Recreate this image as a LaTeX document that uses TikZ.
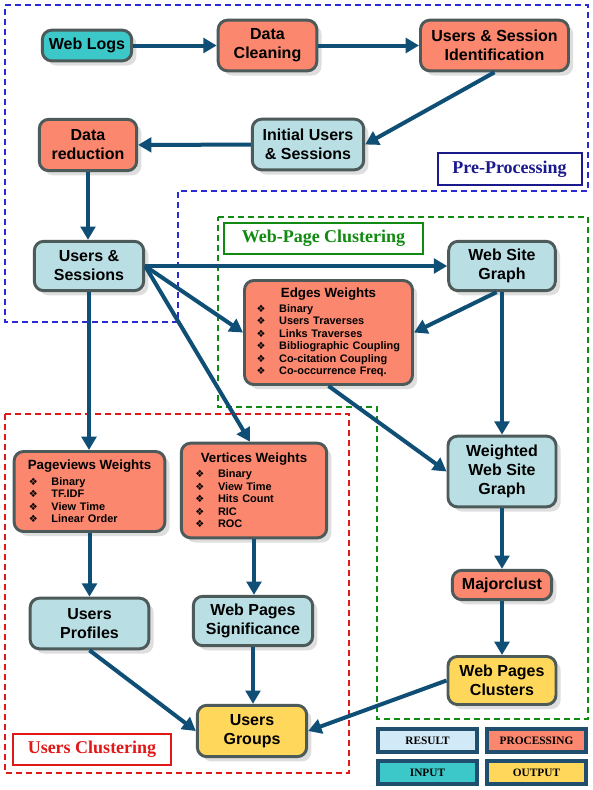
\documentclass[tikz,border=0pt]{standalone}
\usepackage{fontspec}
\setmainfont{Liberation Serif}
\setsansfont{Liberation Sans}
\newfontfamily\bulletfont{DejaVu Sans}
\usetikzlibrary{arrows.meta,shadows}

\definecolor{procfill}{HTML}{FA876E}
\definecolor{resfill}{HTML}{B9DEE3}
\definecolor{infill}{HTML}{3CC8C8}
\definecolor{outfill}{HTML}{FFD75A}
\definecolor{boxline}{HTML}{4D5A5A}
\definecolor{flow}{HTML}{0F4F75}
\definecolor{keyline}{HTML}{1F4E6E}
\definecolor{keyres}{HTML}{D2E9F8}
\definecolor{prenavy}{HTML}{1A1A8C}
\definecolor{preblue}{HTML}{2A2AD8}
\definecolor{wpgreen}{HTML}{108A10}
\definecolor{ucred}{HTML}{E01818}

\newcommand\itm[1]{\mbox{\makebox[17pt][l]{\bulletfont\fontsize{7.5}{7.5}\selectfont ❖}#1}}
\newcommand\wtitle[1]{\makebox[\linewidth]{\fontsize{10}{12}\selectfont #1}}

\begin{document}
\begin{tikzpicture}[x=0.75pt, y=-0.75pt,
  blk/.style={draw=boxline, line width=2.2pt, rounded corners=7pt, align=center, inner sep=2pt,
    font=\sffamily\bfseries\fontsize{12}{14.3}\selectfont,
    drop shadow={shadow xshift=3.5pt, shadow yshift=-3.5pt, fill=black!25}},
  proc/.style={blk, fill=procfill},
  result/.style={blk, fill=resfill},
  inbox/.style={blk, fill=infill},
  outbox/.style={blk, fill=outfill},
  wlist/.style={proc, align=left, font=\sffamily\bfseries\fontsize{8.2}{9.4}\selectfont},
  arrow/.style={-{Triangle[length=10pt, width=11pt]}, line width=3pt, draw=flow},
  region/.style={dash pattern=on 4.5pt off 3pt, line width=0.8pt},
  regtag/.style={draw, line width=1.5pt, fill=white, font=\rmfamily\bfseries\fontsize{13.5}{15}\selectfont},
  keybox/.style={draw=keyline, line width=3pt, minimum width=74pt, minimum height=17pt,
    font=\rmfamily\bfseries\fontsize{8.5}{9}\selectfont}
]
\fill[white] (0,0) rectangle (593,790);
\useasboundingbox (0,0) rectangle (593,790);

% regions
\draw[region, draw=preblue] (5,5) -- (588,5) -- (588,191) -- (178,191) -- (178,322) -- (5,322) -- cycle;
\draw[region, draw=wpgreen] (218,217) -- (588,217) -- (588,719) -- (377,719) -- (377,407) -- (218,407) -- cycle;
\draw[region, draw=ucred] (5,414) rectangle (349,773);
\node[regtag, draw=prenavy, text=prenavy, minimum width=108pt, minimum height=24pt] (pretag) at (509.5,169) {Pre-Processing};
\node[regtag, draw=wpgreen, text=wpgreen, minimum width=149pt, minimum height=23.5pt] (wptag) at (323.5,238.5) {Web-Page Clustering};
\node[regtag, draw=ucred, text=ucred, minimum width=118pt, minimum height=23.5pt] (uctag) at (92,749.5) {Users Clustering};

% pre-processing
\node[inbox, minimum width=67pt, minimum height=23pt] (logs) at (87,45.5) {Web Logs};
\node[proc, minimum width=74pt, minimum height=38pt] (clean) at (267.5,45.5) {Data\\Cleaning};
\node[proc, minimum width=111pt, minimum height=38pt] (ident) at (494.5,45.5) {Users \& Session\\Identification};
\node[result, minimum width=83.5pt, minimum height=38pt] (initial) at (308,144.5) {Initial Users\\\& Sessions};
\node[proc, minimum width=73pt, minimum height=38.5pt] (reduct) at (88,145) {Data\\reduction};
\node[result, minimum width=82pt, minimum height=37pt] (us) at (89,266) {Users \&\\Sessions};

% web-page clustering
\node[result, minimum width=80pt, minimum height=37pt] (site) at (502,266) {Web Site\\Graph};
\node[wlist, minimum width=126pt, minimum height=78pt, text width=108pt] (edges) at (328.5,332.5) {%
  \wtitle{Edges Weights}\\[1.5pt]
  \itm{Binary}\\
  \itm{Users Traverses}\\
  \itm{Links Traverses}\\
  \itm{Bibliographic Coupling}\\
  \itm{Co-citation Coupling}\\
  \itm{Co-occurrence Freq.}};
\node[result, minimum width=81pt, minimum height=53pt] (wsite) at (502,471.5) {Weighted\\Web Site\\Graph};
\node[proc, minimum width=74.5pt, minimum height=22pt] (major) at (502,585) {Majorclust};
\node[outbox, minimum width=81pt, minimum height=36pt] (clusters) at (502,680.5) {Web Pages\\Clusters};

% users clustering
\node[wlist, minimum width=113pt, minimum height=60pt, text width=91pt] (pagew) at (89.5,491.5) {%
  \wtitle{Pageviews Weights}\\[2pt]
  \itm{Binary}\\
  \itm{TF.IDF}\\
  \itm{View Time}\\
  \itm{Linear Order}};
\node[wlist, minimum width=109pt, minimum height=71pt, text width=88pt] (vertw) at (254,490.5) {%
  \wtitle{Vertices Weights}\\[1.5pt]
  \itm{Binary}\\
  \itm{View Time}\\
  \itm{Hits Count}\\
  \itm{RIC}\\
  \itm{ROC}};
\node[result, minimum width=89pt, minimum height=38pt] (profiles) at (89.5,623.5) {Users\\Profiles};
\node[result, minimum width=89.5pt, minimum height=37pt] (signif) at (253,621) {Web Pages\\Significance};
\node[outbox, minimum width=82pt, minimum height=38.5pt] (groups) at (252,731) {Users\\Groups};

% legend
\node[keybox, fill=keyres] (kres) at (427.5,740.5) {RESULT};
\node[keybox, fill=procfill] (kproc) at (536.5,740.5) {PROCESSING};
\node[keybox, fill=infill] (kin) at (427.5,772.5) {INPUT};
\node[keybox, fill=outfill] (kout) at (536.5,772.5) {OUTPUT};

% flows
\draw[arrow] (logs) -- (clean);
\draw[arrow] (clean) -- (ident);
\draw[arrow] (ident.south) -- (initial.east);
\draw[arrow] (initial) -- (reduct);
\draw[arrow] (reduct.south) -- (reduct.south |- us.north);
\draw[arrow] (us.east) -- (site.west);
\draw[arrow] (us.east) -- (edges.west);
\draw[arrow] (us.east) -- ([xshift=-3pt]vertw.north);
\draw[arrow] (us.south) -- (us.south |- pagew.north);
\draw[arrow] ([xshift=-4pt]site.south) -- (edges.east);
\draw[arrow] (site) -- (wsite);
\draw[arrow] (edges.south) -- (wsite.west);
\draw[arrow] (wsite) -- (major);
\draw[arrow] (major) -- (clusters);
\draw[arrow] (clusters.west) -- (groups.east);
\draw[arrow] (pagew) -- (profiles);
\draw[arrow] (vertw.south) -- (vertw.south |- signif.north);
\draw[arrow] (profiles.south) -- (groups.west);
\draw[arrow] (signif.south) -- (signif.south |- groups.north);
\end{tikzpicture}
\end{document}
